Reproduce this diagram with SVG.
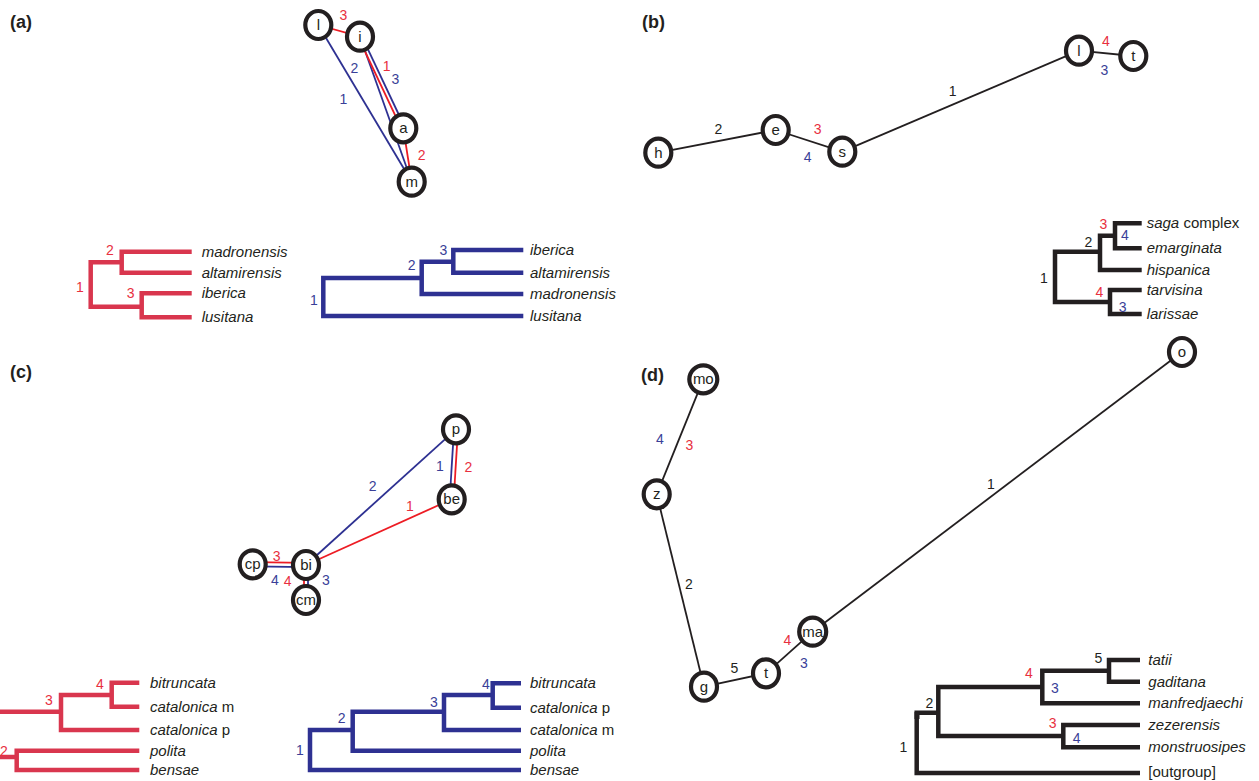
<svg xmlns="http://www.w3.org/2000/svg" width="1259" height="781" viewBox="0 0 1259 781">
  <style>
    .panel { font: bold 18px "Liberation Sans", Arial, sans-serif; fill: #231f20; }
    .node ellipse { fill: #fff; stroke: #231f20; stroke-width: 4.2; }
    .node text { font: 15px "Liberation Sans", Arial, sans-serif; fill: #231f20; text-anchor: middle; }
    .e { fill: none; stroke-width: 1.8; }
    .k { stroke: #231f20; }
    .r { stroke: #ed1c24; }
    .b { stroke: #2e3192; }
    .lab { font: 14px "Liberation Sans", Arial, sans-serif; text-anchor: middle; }
    .lk { fill: #231f20; }
    .lr { fill: #e8303f; }
    .lb { fill: #3a3f98; }
    .tree { fill: none; stroke-width: 4.5; stroke-linejoin: miter; stroke-linecap: butt; }
    .tr { stroke: #d9364e; }
    .tb { stroke: #2e3192; }
    .tk { stroke: #231f20; }
    .sp { font: italic 15px "Liberation Sans", Arial, sans-serif; fill: #231f20; }
    .up { font-style: normal; }
  </style>

  <!-- panel letters -->
  <text class="panel" x="10" y="28">(a)</text>
  <text class="panel" x="642" y="28">(b)</text>
  <text class="panel" x="10" y="378">(c)</text>
  <text class="panel" x="641" y="381">(d)</text>

  <!-- ===== (a) graph ===== -->
  <g id="edges-a">
    <line class="e r" x1="318.3" y1="25" x2="360" y2="36.7"/>
    <line class="e b" x1="318.3" y1="25" x2="411.7" y2="181.7"/>
    <line class="e b" x1="360" y1="36.7" x2="411.7" y2="181.7"/>
    <line class="e r" x1="358.4" y1="37.5" x2="401.7" y2="129.1"/>
    <line class="e b" x1="361.6" y1="35.9" x2="404.9" y2="127.5"/>
    <line class="e r" x1="403.3" y1="128.3" x2="411.7" y2="181.7"/>
    <text class="lab lr" x="343.3" y="20">3</text>
    <text class="lab lb" x="354.3" y="73.3">2</text>
    <text class="lab lb" x="343.3" y="104.3">1</text>
    <text class="lab lr" x="386.7" y="71">1</text>
    <text class="lab lb" x="395.3" y="84.3">3</text>
    <text class="lab lr" x="421.7" y="160">2</text>
  </g>
  <g id="a-l" class="node"><ellipse cx="318.3" cy="25" rx="13" ry="14"/><text x="318.3" y="30">l</text></g>
  <g id="a-i" class="node"><ellipse cx="360" cy="36.7" rx="13" ry="14"/><text x="360" y="41.7">i</text></g>
  <g id="a-a" class="node"><ellipse cx="403.3" cy="128.3" rx="13" ry="14"/><text x="403.3" y="133.3">a</text></g>
  <g id="a-m" class="node"><ellipse cx="411.7" cy="181.7" rx="13" ry="14"/><text x="411.7" y="186.7">m</text></g>

  <!-- (a) trees -->
  <g id="tree-a-red">
    <path class="tree tr" d="M121.7 262.2 H90.7 V306.7 H141.7"/>
    <path class="tree tr" d="M191.7 251.7 H121.7 V272.7 H191.7"/>
    <path class="tree tr" d="M191.7 293.3 H141.7 V317.3 H191.7"/>
    <text class="lab lr" x="110" y="255">2</text>
    <text class="lab lr" x="80" y="292">1</text>
    <text class="lab lr" x="130.7" y="298">3</text>
    <text class="sp" x="201.7" y="256.7">madronensis</text>
    <text class="sp" x="201.7" y="277.7">altamirensis</text>
    <text class="sp" x="201.7" y="298.3">iberica</text>
    <text class="sp" x="201.7" y="322.3">lusitana</text>
  </g>
  <g id="tree-a-blue">
    <path class="tree tb" d="M421.7 278 H323.3 V316 H523.3"/>
    <path class="tree tb" d="M453.3 261.7 H421.7 V294 H523.3"/>
    <path class="tree tb" d="M523.3 250 H453.3 V272.7 H523.3"/>
    <text class="lab lb" x="443.3" y="255">3</text>
    <text class="lab lb" x="411.7" y="270">2</text>
    <text class="lab lb" x="314" y="305">1</text>
    <text class="sp" x="530" y="255">iberica</text>
    <text class="sp" x="530" y="277.7">altamirensis</text>
    <text class="sp" x="530" y="299">madronensis</text>
    <text class="sp" x="530" y="321">lusitana</text>
  </g>

  <!-- ===== (b) graph ===== -->
  <g id="edges-b">
    <line class="e k" x1="658.3" y1="152.7" x2="775.7" y2="130"/>
    <line class="e k" x1="775.7" y1="130" x2="842.3" y2="151.7"/>
    <line class="e k" x1="842.3" y1="151.7" x2="1079" y2="50.7"/>
    <line class="e k" x1="1079" y1="50.7" x2="1133.3" y2="56"/>
    <text class="lab lk" x="718.3" y="134">2</text>
    <text class="lab lr" x="817.7" y="134">3</text>
    <text class="lab lb" x="807.7" y="162.3">4</text>
    <text class="lab lk" x="952.7" y="95.7">1</text>
    <text class="lab lr" x="1106" y="45.7">4</text>
    <text class="lab lb" x="1104.3" y="75">3</text>
  </g>
  <g id="b-h" class="node"><ellipse cx="658.3" cy="152.7" rx="13" ry="14"/><text x="658.3" y="157.7">h</text></g>
  <g id="b-e" class="node"><ellipse cx="775.7" cy="130" rx="13" ry="14"/><text x="775.7" y="135">e</text></g>
  <g id="b-s" class="node"><ellipse cx="842.3" cy="151.7" rx="13" ry="14"/><text x="842.3" y="156.7">s</text></g>
  <g id="b-l" class="node"><ellipse cx="1079" cy="50.7" rx="13" ry="14"/><text x="1079" y="55.7">l</text></g>
  <g id="b-t" class="node"><ellipse cx="1133.3" cy="56" rx="13" ry="14"/><text x="1133.3" y="61">t</text></g>

  <!-- (b) tree -->
  <g id="tree-b">
    <path class="tree tk" d="M1100 251.7 H1055 V302 H1110"/>
    <path class="tree tk" d="M1115 235.8 H1100 V270 H1141.7"/>
    <path class="tree tk" d="M1141.7 223.3 H1115 V248.3 H1141.7"/>
    <path class="tree tk" d="M1141.7 290 H1110 V314 H1141.7"/>
    <text class="lab lr" x="1103.3" y="229">3</text>
    <text class="lab lb" x="1125" y="240">4</text>
    <text class="lab lk" x="1088.3" y="246.7">2</text>
    <text class="lab lk" x="1044" y="283.3">1</text>
    <text class="lab lr" x="1099.3" y="296.7">4</text>
    <text class="lab lb" x="1122.7" y="311.7">3</text>
    <text class="sp" x="1146.7" y="228.3">saga<tspan class="up"> complex</tspan></text>
    <text class="sp" x="1146.7" y="253.3">emarginata</text>
    <text class="sp" x="1146.7" y="275">hispanica</text>
    <text class="sp" x="1146.7" y="295">tarvisina</text>
    <text class="sp" x="1146.7" y="319">larissae</text>
  </g>

  <!-- ===== (c) graph ===== -->
  <g id="edges-c">
    <line class="e b" x1="456" y1="429.3" x2="306" y2="565"/>
    <line class="e r" x1="451.7" y1="499.3" x2="306" y2="565"/>
    <line class="e b" x1="454" y1="429.3" x2="449.7" y2="499.3"/>
    <line class="e r" x1="458" y1="429.3" x2="453.7" y2="499.3"/>
    <line class="e r" x1="252.7" y1="562.2" x2="306" y2="562.9"/>
    <line class="e b" x1="252.7" y1="566.4" x2="306" y2="567.1"/>
    <line class="e r" x1="304" y1="565" x2="304" y2="600"/>
    <line class="e b" x1="308" y1="565" x2="308" y2="600"/>
    <text class="lab lb" x="372.7" y="491">2</text>
    <text class="lab lr" x="410" y="511">1</text>
    <text class="lab lb" x="440" y="471">1</text>
    <text class="lab lr" x="468.3" y="472.3">2</text>
    <text class="lab lr" x="276.7" y="560.7">3</text>
    <text class="lab lb" x="275" y="585">4</text>
    <text class="lab lr" x="287.7" y="586">4</text>
    <text class="lab lb" x="326" y="585">3</text>
  </g>
  <g id="c-p" class="node"><ellipse cx="456" cy="429.3" rx="13" ry="14"/><text x="456" y="434.3">p</text></g>
  <g id="c-be" class="node"><ellipse cx="451.7" cy="499.3" rx="13" ry="14"/><text x="451.7" y="504.3">be</text></g>
  <g id="c-bi" class="node"><ellipse cx="306" cy="565" rx="13" ry="14"/><text x="306" y="570">bi</text></g>
  <g id="c-cp" class="node"><ellipse cx="252.7" cy="564.3" rx="13" ry="14"/><text x="252.7" y="569.3">cp</text></g>
  <g id="c-cm" class="node"><ellipse cx="306" cy="600" rx="13" ry="14"/><text x="306" y="605">cm</text></g>

  <!-- (c) trees -->
  <g id="tree-c-red">
    <path class="tree tr" d="M-5 711.7 H61"/>
    <path class="tree tr" d="M111.7 695 H61 V730 H139.3"/>
    <path class="tree tr" d="M139.3 682.7 H111.7 V706.7 H139.3"/>
    <path class="tree tr" d="M-5 757 H16.7"/>
    <path class="tree tr" d="M139.3 750.7 H16.7 V770 H139.3"/>
    <text class="lab lr" x="100" y="689">4</text>
    <text class="lab lr" x="49" y="705">3</text>
    <text class="lab lr" x="4" y="755.7">2</text>
    <text class="sp" x="150" y="687.7">bitruncata</text>
    <text class="sp" x="150" y="711.7">catalonica<tspan class="up"> m</tspan></text>
    <text class="sp" x="150" y="735">catalonica<tspan class="up"> p</tspan></text>
    <text class="sp" x="150" y="755.7">polita</text>
    <text class="sp" x="150" y="775">bensae</text>
  </g>
  <g id="tree-c-blue">
    <path class="tree tb" d="M352.7 730 H310 V770 H521"/>
    <path class="tree tb" d="M444 711.7 H352.7 V750.7 H521"/>
    <path class="tree tb" d="M492.7 695 H444 V730 H521"/>
    <path class="tree tb" d="M521 683.3 H492.7 V707.7 H521"/>
    <text class="lab lb" x="486" y="689">4</text>
    <text class="lab lb" x="434" y="706.7">3</text>
    <text class="lab lb" x="341.7" y="723.3">2</text>
    <text class="lab lb" x="300" y="755">1</text>
    <text class="sp" x="530" y="688.3">bitruncata</text>
    <text class="sp" x="530" y="712.7">catalonica<tspan class="up"> p</tspan></text>
    <text class="sp" x="530" y="735">catalonica<tspan class="up"> m</tspan></text>
    <text class="sp" x="530" y="755.7">polita</text>
    <text class="sp" x="530" y="775">bensae</text>
  </g>

  <!-- ===== (d) graph ===== -->
  <g id="edges-d">
    <line class="e k" x1="703.3" y1="379.3" x2="656.7" y2="494.3"/>
    <line class="e k" x1="656.7" y1="494.3" x2="704" y2="686.7"/>
    <line class="e k" x1="704" y1="686.7" x2="766" y2="673.3"/>
    <line class="e k" x1="766" y1="673.3" x2="812.7" y2="631.7"/>
    <line class="e k" x1="812.7" y1="631.7" x2="1182" y2="352"/>
    <text class="lab lb" x="660" y="444.3">4</text>
    <text class="lab lr" x="689.3" y="450">3</text>
    <text class="lab lk" x="689" y="589">2</text>
    <text class="lab lk" x="734.3" y="673.3">5</text>
    <text class="lab lr" x="787.3" y="645">4</text>
    <text class="lab lb" x="804" y="668.3">3</text>
    <text class="lab lk" x="991" y="489">1</text>
  </g>
  <g id="d-mo" class="node"><ellipse cx="703.3" cy="379.3" rx="14" ry="14"/><text x="703.3" y="384.3">mo</text></g>
  <g id="d-z" class="node"><ellipse cx="656.7" cy="494.3" rx="13" ry="14"/><text x="656.7" y="499.3">z</text></g>
  <g id="d-g" class="node"><ellipse cx="704" cy="686.7" rx="13" ry="14"/><text x="704" y="691.7">g</text></g>
  <g id="d-t" class="node"><ellipse cx="766" cy="673.3" rx="13" ry="14"/><text x="766" y="678.3">t</text></g>
  <g id="d-ma" class="node"><ellipse cx="812.7" cy="631.7" rx="13.5" ry="14"/><text x="812.7" y="636.7">ma</text></g>
  <g id="d-o" class="node"><ellipse cx="1182" cy="352" rx="13" ry="14"/><text x="1182" y="357">o</text></g>

  <!-- (d) tree -->
  <g id="tree-d">
    <path class="tree tk" d="M938.3 712.8 H916.7 V773 H1140"/>
    <rect x="914.5" y="712" width="5" height="7" fill="#231f20"/>
    <path class="tree tk" d="M1042.3 687 H938.3 V736 H1063.3"/>
    <path class="tree tk" d="M1109 670.8 H1042.3 V703.3 H1140"/>
    <path class="tree tk" d="M1140 660 H1109 V681.7 H1140"/>
    <path class="tree tk" d="M1140 725 H1063.3 V747.3 H1140"/>
    <text class="lab lk" x="1098.3" y="663.3">5</text>
    <text class="lab lr" x="1029" y="678.3">4</text>
    <text class="lab lb" x="1055" y="693.3">3</text>
    <text class="lab lk" x="929.3" y="708.3">2</text>
    <text class="lab lk" x="903.3" y="751.7">1</text>
    <text class="lab lr" x="1052.7" y="728.3">3</text>
    <text class="lab lb" x="1076.7" y="743.3">4</text>
    <text class="sp" x="1148.3" y="665">tatii</text>
    <text class="sp" x="1148.3" y="686.7">gaditana</text>
    <text class="sp" x="1148.3" y="708.3">manfredjaechi</text>
    <text class="sp" x="1148.3" y="730">zezerensis</text>
    <text class="sp" x="1148.3" y="752.3">monstruosipes</text>
    <text class="sp up" x="1148.3" y="777">[outgroup]</text>
  </g>
</svg>
